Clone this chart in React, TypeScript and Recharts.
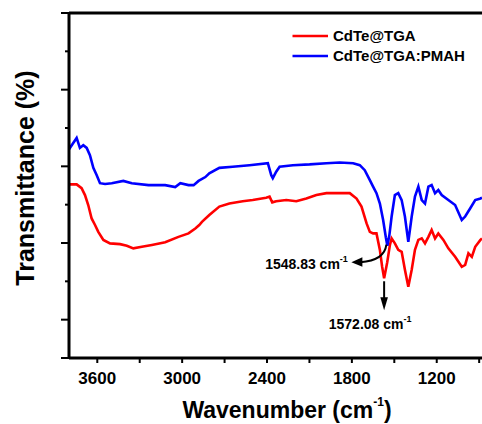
import React from "react";
import { LineChart, Line, XAxis, YAxis, ReferenceLine, ReferenceDot, Legend } from "recharts";

const FONT = "'Liberation Sans', Arial, sans-serif";

// CdTe@TGA (red)
const redWavenumber = [
  3800, 3746, 3711, 3687, 3664, 3640, 3616, 3593, 3557, 3510, 3439, 3391, 3345, 3285, 3214, 3120,
  3026, 2955, 2907, 2879, 2860, 2808, 2737, 2666, 2572, 2501, 2406, 2382, 2363, 2335, 2264, 2193,
  2122, 2051, 1980, 1886, 1815, 1767, 1732, 1696, 1673, 1650, 1626, 1602, 1586, 1572, 1550, 1531,
  1519, 1496, 1472, 1448, 1425, 1401, 1377, 1354, 1330, 1306, 1283, 1259, 1236, 1212, 1189, 1153,
  1118, 1070, 1023, 999, 976, 952, 928, 891, 880,
];
const redTransmittance = [
  45.3, 45.3, 44.3, 42.5, 39.9, 36.4, 34.7, 32.9, 30.8, 29.9, 29.7, 29.3, 28.6, 29.0, 29.5, 30.2,
  31.6, 32.5, 33.8, 34.7, 35.5, 37.3, 39.5, 40.3, 40.9, 41.2, 41.8, 42.1, 40.6, 40.9, 41.2, 40.9,
  41.6, 42.5, 43.0, 43.0, 43.0, 41.6, 39.5, 35.1, 32.9, 32.5, 32.5, 28.2, 23.8, 20.8, 25.0, 29.5,
  31.2, 29.9, 28.2, 27.7, 23.0, 18.6, 23.0, 28.2, 30.8, 31.2, 29.9, 31.6, 33.4, 31.2, 32.5, 30.8,
  28.6, 26.4, 23.8, 24.3, 27.3, 26.4, 29.0, 30.8, 31.2,
];

// CdTe@TGA:PMAH (blue)
const blueWavenumber = [
  3800, 3793, 3770, 3746, 3723, 3699, 3675, 3652, 3628, 3604, 3581, 3545, 3498, 3416, 3356, 3238,
  3120, 3049, 3013, 2955, 2919, 2884, 2836, 2808, 2737, 2643, 2524, 2394, 2370, 2359, 2335, 2311,
  2217, 2099, 1980, 1886, 1791, 1744, 1709, 1673, 1650, 1626, 1602, 1579, 1560, 1549, 1535, 1519,
  1496, 1472, 1448, 1425, 1401, 1377, 1354, 1330, 1306, 1283, 1259, 1236, 1212, 1189, 1165, 1118,
  1070, 1023, 999, 964, 928, 891, 880,
];
const blueTransmittance = [
  55.5, 54.8, 56.1, 57.4, 54.8, 55.5, 54.8, 52.9, 49.6, 47.7, 45.6, 45.4, 45.6, 46.2, 45.6, 45.1,
  45.1, 44.6, 45.6, 45.1, 45.1, 46.2, 47.2, 48.2, 49.6, 49.9, 50.3, 50.8, 47.7, 46.9, 48.6, 49.9,
  50.3, 50.5, 50.8, 51.0, 50.8, 50.3, 49.0, 46.4, 44.7, 43.0, 40.3, 36.0, 31.5, 29.3, 32.0, 36.9,
  42.5, 43.0, 41.2, 36.9, 30.3, 36.9, 42.1, 44.7, 41.2, 40.3, 44.7, 45.1, 43.0, 43.8, 42.5, 41.2,
  39.9, 36.0, 36.9, 39.0, 41.2, 41.6, 41.8,
];

const xTicks = [3600, 3300, 3000, 2700, 2400, 2100, 1800, 1500, 1200, 900];
const xLabelTicks = [3600, 3000, 2400, 1800, 1200];
const yTicks = [0, 10, 20, 30, 40, 50, 60, 70, 80, 90];
const yMajorTicks = [0, 10, 30, 50, 70, 90];

const redData = redWavenumber.map((wn, i) => ({ wn, t: redTransmittance[i] }));
const blueData = blueWavenumber.map((wn, i) => ({ wn, t: blueTransmittance[i] }));

function XTick(props: any) {
  const { x, y, payload } = props;
  const major = xLabelTicks.includes(payload.value);
  return (
    <g>
      <line x1={x} x2={x} y1={y} y2={y + 5} stroke="#000" strokeWidth={2} />
      {major && (
        <text x={x} y={y + 25.5} textAnchor="middle" fontSize={17} fontWeight="bold" fontFamily={FONT} fill="#000">
          {payload.value}
        </text>
      )}
    </g>
  );
}

function YTick(props: any) {
  const { x, y, payload } = props;
  const major = yMajorTicks.includes(payload.value);
  return <line x1={x - (major ? 8 : 4)} x2={x} y1={y} y2={y} stroke="#000" strokeWidth={2} />;
}

function XTitle() {
  return (
    <text x={287} y={417.5} textAnchor="middle" fontSize={23} fontWeight="bold" fontFamily={FONT} fill="#000">
      Wavenumber (cm<tspan fontSize={12} dy={-12}>-1</tspan><tspan dy={12}>)</tspan>
    </text>
  );
}

function YTitle() {
  return (
    <text x={34} y={178} transform="rotate(-90 34 178)" textAnchor="middle" fontSize={25} fontWeight="bold" fontFamily={FONT} fill="#000">
      Transmittance (%)
    </text>
  );
}

function LegendBox() {
  return (
    <svg width={190} height={42}>
      <line x1={2.5} x2={38} y1={9} y2={9} stroke="#ff0000" strokeWidth={2.5} />
      <text x={43} y={14.4} fontSize={15} fontWeight="bold" fontFamily={FONT} fill="#000">CdTe@TGA</text>
      <line x1={2.5} x2={38} y1={29} y2={29} stroke="#0000ff" strokeWidth={2.5} />
      <text x={43} y={34.4} fontSize={15} fontWeight="bold" fontFamily={FONT} fill="#000">CdTe@TGA:PMAH</text>
    </svg>
  );
}

// arrow pointing down from the red minimum
function DownNote(props: any) {
  const { x, y } = props.viewBox;
  return (
    <g>
      <line x1={x} x2={x} y1={y + 3} y2={y + 22} stroke="#000" strokeWidth={2} />
      <polygon points={`${x},${y + 32} ${x - 3.8},${y + 19} ${x + 3.8},${y + 19}`} fill="#000" />
      <text x={x - 14} y={y + 50.5} textAnchor="middle" fontSize={14} fontWeight="bold" fontFamily={FONT} fill="#000">
        1572.08 cm<tspan fontSize={9} dy={-7}>-1</tspan>
      </text>
    </g>
  );
}

// curved arrow from the blue minimum to the left
function CurveNote(props: any) {
  const { x, y } = props.viewBox;
  return (
    <g>
      <path d={`M${x - 1},${y - 1} Q${x - 3},${y + 15} ${x - 27},${y + 16.5}`} fill="none" stroke="#000" strokeWidth={2} />
      <polygon points={`${x - 36},${y + 16.5} ${x - 25},${y + 11.5} ${x - 25},${y + 21}`} fill="#000" />
      <text x={x - 39.5} y={y + 23} textAnchor="end" fontSize={14} fontWeight="bold" fontFamily={FONT} fill="#000">
        1548.83 cm<tspan fontSize={9} dy={-7}>-1</tspan>
      </text>
    </g>
  );
}

export default function App() {
  return (
    <div style={{ position: "absolute", left: 0, top: 0, width: 482, height: 424, background: "#fff" }}>
      <LineChart width={482} height={424} margin={{ top: 13, right: 0, bottom: 0, left: 0 }}>
        <XAxis
          type="number"
          dataKey="wn"
          domain={[880, 3800]}
          reversed
          ticks={xTicks}
          interval={0}
          allowDataOverflow
          height={66}
          axisLine={{ stroke: "#000", strokeWidth: 3 }}
          tickLine={false}
          tickSize={0}
          tickMargin={0}
          tick={(p: any) => <XTick {...p} />}
          label={<XTitle />}
        />
        <YAxis
          type="number"
          domain={[0, 90]}
          ticks={yTicks}
          interval={0}
          allowDataOverflow
          width={69}
          axisLine={{ stroke: "#000", strokeWidth: 3 }}
          tickLine={false}
          tickSize={0}
          tickMargin={0}
          tick={(p: any) => <YTick {...p} />}
          label={<YTitle />}
        />
        <ReferenceLine y={90} stroke="#000" strokeWidth={3} />
        <Legend
          layout="horizontal"
          verticalAlign="middle"
          align="center"
          wrapperStyle={{ top: 27, left: 290, width: 190, height: 42 }}
          content={() => <LegendBox />}
        />
        <Line data={redData} dataKey="t" name="CdTe@TGA" type="linear" stroke="#ff0000" strokeWidth={2.6} dot={false} isAnimationActive={false} />
        <Line data={blueData} dataKey="t" name="CdTe@TGA:PMAH" type="linear" stroke="#0000ff" strokeWidth={2.6} dot={false} isAnimationActive={false} />
        <ReferenceDot x={1572} y={20.8} r={0} fill="none" stroke="none" label={(p: any) => <DownNote {...p} />} />
        <ReferenceDot x={1549} y={29.3} r={0} fill="none" stroke="none" label={(p: any) => <CurveNote {...p} />} />
      </LineChart>
    </div>
  );
}
